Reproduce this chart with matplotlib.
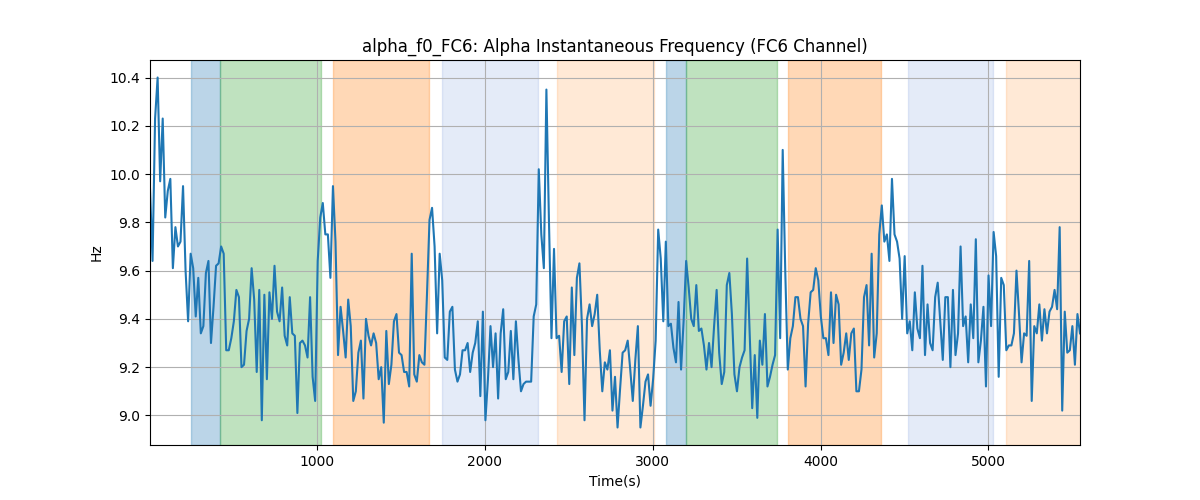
import matplotlib
matplotlib.use("Agg")
import matplotlib.pyplot as plt
import numpy as np

# alpha instantaneous frequency, FC6 channel (Hz)
freq_hz = [
    9.94, 9.64, 10.23, 10.40, 9.97, 10.23, 9.82, 9.93, 9.98, 9.61, 9.78, 9.70, 9.72, 9.95, 9.60, 9.39,
    9.67, 9.61, 9.41, 9.57, 9.34, 9.37, 9.59, 9.64, 9.30, 9.45, 9.62, 9.63, 9.70, 9.67, 9.27, 9.27,
    9.32, 9.39, 9.52, 9.49, 9.20, 9.21, 9.35, 9.40, 9.61, 9.48, 9.18, 9.52, 8.98, 9.50,
    9.15, 9.51, 9.40, 9.62, 9.43, 9.39, 9.53, 9.33, 9.29, 9.49, 9.34, 9.33, 9.01, 9.30, 9.31, 9.29,
    9.24, 9.49, 9.16, 9.06, 9.64, 9.82, 9.88, 9.75, 9.75, 9.57, 9.95, 9.72, 9.25, 9.45, 9.35, 9.24,
    9.48, 9.37, 9.06, 9.10, 9.26, 9.31, 9.07, 9.40, 9.33, 9.29, 9.34, 9.30, 9.15,
    9.20, 8.97, 9.35, 9.13, 9.21, 9.39, 9.42, 9.26, 9.25, 9.18, 9.18, 9.12, 9.67, 9.17, 9.14, 9.25,
    9.22, 9.21, 9.50, 9.81, 9.86, 9.70, 9.34, 9.67, 9.56, 9.24, 9.23, 9.43, 9.45, 9.19, 9.14, 9.17,
    9.27, 9.27, 9.30, 9.18, 9.26, 9.30, 9.39, 9.08, 9.43, 8.98, 9.15, 9.37, 9.20, 9.34,
    9.07, 9.34, 9.44, 9.15, 9.18, 9.35, 9.15, 9.39, 9.23, 9.10, 9.13, 9.14, 9.14, 9.14, 9.41, 9.46,
    10.02, 9.75, 9.61, 10.35, 9.81, 9.32, 9.69, 9.32, 9.33, 9.18, 9.39, 9.41, 9.13, 9.53, 9.25, 9.57,
    9.63, 9.37, 8.98, 9.40, 9.46, 9.37, 9.42, 9.50, 9.27, 9.10, 9.22, 9.19, 9.27, 9.02,
    9.16, 8.95, 9.11, 9.26, 9.27, 9.31, 9.19, 9.06, 9.23, 9.37, 8.95, 9.04, 9.14, 9.17, 9.04, 9.15,
    9.31, 9.77, 9.65, 9.39, 9.72, 9.37, 9.38, 9.28, 9.22, 9.47, 9.19, 9.39, 9.64, 9.53, 9.40, 9.37,
    9.54, 9.35, 9.36, 9.29, 9.19, 9.30, 9.20, 9.37, 9.52, 9.26, 9.13, 9.18, 9.54, 9.59,
    9.42, 9.17, 9.10, 9.20, 9.24, 9.27, 9.65, 9.34, 9.03, 9.25, 8.99, 9.31, 9.21, 9.42, 9.12, 9.16,
    9.21, 9.25, 9.77, 9.32, 10.10, 9.60, 9.19, 9.32, 9.37, 9.49, 9.49, 9.40, 9.37, 9.12, 9.38, 9.51,
    9.52, 9.61, 9.56, 9.41, 9.32, 9.32, 9.25, 9.51, 9.30, 9.50, 9.46, 9.21, 9.26, 9.34,
    9.23, 9.34, 9.36, 9.10, 9.10, 9.19, 9.49, 9.54, 9.29, 9.67, 9.24, 9.34, 9.75, 9.87, 9.72, 9.75,
    9.64, 9.98, 9.75, 9.72, 9.65, 9.40, 9.66, 9.34, 9.39, 9.27, 9.51, 9.36, 9.32, 9.62, 9.25, 9.46,
    9.30, 9.27, 9.49, 9.55, 9.39, 9.23, 9.49, 9.49, 9.20, 9.52, 9.25, 9.34, 9.70, 9.37,
    9.41, 9.22, 9.46, 9.32, 9.73, 9.22, 9.31, 9.45, 9.12, 9.58, 9.37, 9.76, 9.66, 9.16, 9.57, 9.54,
    9.27, 9.29, 9.29, 9.34, 9.60, 9.42, 9.22, 9.34, 9.33, 9.64, 9.06, 9.37, 9.34, 9.46, 9.31, 9.44,
    9.34, 9.43, 9.45, 9.52, 9.44, 9.78, 9.02, 9.43, 9.26, 9.27, 9.37, 9.21, 9.42, 9.34,
]
t_first, t_last = 8, 5545

# task segments (start, end, colour, alpha)
seg_start = [255, 424, 1095, 1745, 2430, 3080, 3199, 3806, 4522, 5106]
seg_end = [424, 1026, 1667, 2320, 3008, 3199, 3742, 4358, 5025, 5600]
seg_color = ["tab:blue", "tab:green", "tab:orange", "#3366cc", "tab:orange",
             "tab:blue", "tab:green", "tab:orange", "#3366cc", "tab:orange"]
seg_alpha = [0.3, 0.3, 0.3, 0.13, 0.17, 0.3, 0.3, 0.3, 0.13, 0.17]

times = np.linspace(t_first, t_last, len(freq_hz))

fig, ax = plt.subplots(figsize=(12, 5), dpi=100)
for s, e, c, a in zip(seg_start, seg_end, seg_color, seg_alpha):
    ax.axvspan(s, e, color=c, alpha=a)
ax.plot(times, freq_hz, color="tab:blue")
ax.set_xlim(times[0], times[-1])
ax.grid(True)
ax.set_title("alpha_f0_FC6: Alpha Instantaneous Frequency (FC6 Channel)")
ax.set_xlabel("Time(s)")
ax.set_ylabel("Hz")
fig.savefig("out.png")
